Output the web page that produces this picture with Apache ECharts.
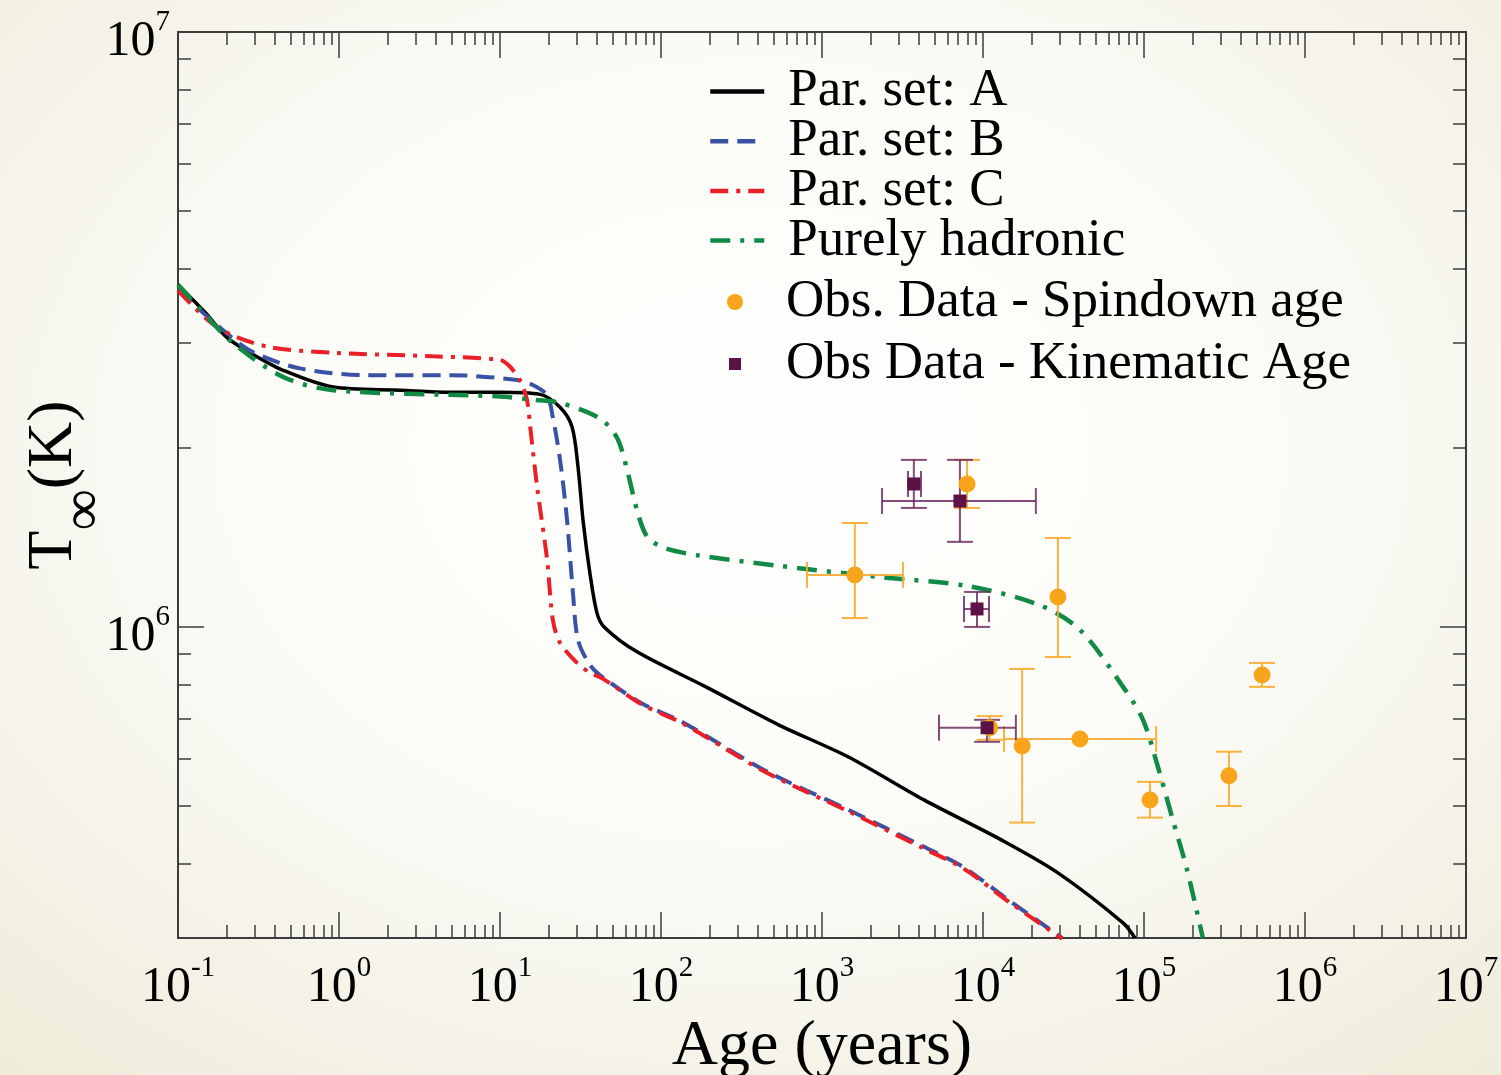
<!DOCTYPE html>
<html>
<head>
<meta charset="utf-8">
<script src="https://cdn.jsdelivr.net/npm/echarts@6/dist/echarts.min.js"></script>
<style>
  html, body { margin: 0; padding: 0; }
  #chart {
    width: 1501px; height: 1075px;
    background: radial-gradient(ellipse 78% 80% at 50% 42%, #fefefd 0%, #fbfbf7 45%, #efebd9 100%);
  }
</style>
</head>
<body>
<div id="chart"></div>
<script>
// Cooling curves: surface temperature T_inf (K) against age (years)
const ageA = [0.1, 0.15, 0.2, 0.28, 0.45, 0.92, 2.4, 4.9, 10, 17.7, 23.6, 28, 30.5, 32.8, 36.2, 40, 44.3, 71, 190, 541, 1450, 4300, 12900, 29200, 74100, 87900];
const tA   = [3.76e6, 3.36e6, 3.07e6, 2.89e6, 2.70e6, 2.53e6, 2.50e6, 2.48e6, 2.48e6, 2.46e6, 2.34e6, 2.17e6, 1.86e6, 1.51e6, 1.23e6, 1.056e6, 1.0e6, 9.08e5, 7.93e5, 6.84e5, 6.05e5, 5.12e5, 4.39e5, 3.86e5, 3.18e5, 3.0e5];

const ageB = [0.1, 0.2, 0.29, 0.57, 1.49, 4.9, 12.8, 16.0, 19.6, 21.3, 23.6, 26.1, 28.4, 30.5, 36.2, 43.7, 75.2, 137, 436, 1450, 4300, 7520, 14500, 31000];
const tB   = [3.68e6, 3.12e6, 2.90e6, 2.72e6, 2.65e6, 2.65e6, 2.60e6, 2.55e6, 2.45e6, 2.25e6, 1.91e6, 1.51e6, 1.14e6, 9.51e5, 8.63e5, 8.22e5, 7.45e5, 6.91e5, 5.75e5, 4.93e5, 4.27e5, 3.95e5, 3.47e5, 3.0e5];

const ageC = [0.1, 0.175, 0.357, 0.92, 3.84, 10, 11.5, 13.3, 14.7, 15.4, 17.0, 19.6, 21.3, 23.6, 30.1, 36.2, 43.7, 75.2, 137, 436, 1450, 4300, 7520, 14500, 31000];
const tC   = [3.68e6, 3.19e6, 2.96e6, 2.89e6, 2.85e6, 2.81e6, 2.74e6, 2.60e6, 2.41e6, 2.17e6, 1.72e6, 1.30e6, 1.027e6, 9.40e5, 8.70e5, 8.38e5, 8.18e5, 7.42e5, 6.88e5, 5.72e5, 4.90e5, 4.24e5, 3.93e5, 3.45e5, 2.99e5];

const ageH = [0.1, 0.15, 0.22, 0.45, 0.92, 10, 16, 23.6, 41.8, 53.3, 61.5, 71, 81.8, 103, 167, 548, 2290, 7960, 22300, 40000, 74100, 98600, 122000, 151000, 185000, 232000];
const tH   = [3.76e6, 3.33e6, 3.0e6, 2.63e6, 2.50e6, 2.44e6, 2.41e6, 2.38e6, 2.24e6, 2.08e6, 1.84e6, 1.57e6, 1.42e6, 1.36e6, 1.32e6, 1.266e6, 1.213e6, 1.172e6, 1.089e6, 9.89e5, 7.93e5, 6.98e5, 5.82e5, 4.74e5, 3.91e5, 3.0e5];

// Observed neutron stars, spin-down ages
const spinAge   = [1600, 7960, 29200, 11000, 17500, 40000, 109000, 337000, 541000];
const spinT     = [1.223e6, 1.739e6, 1.123e6, 6.77e5, 6.31e5, 6.48e5, 5.12e5, 5.62e5, 8.30e5];
const spinAgeLo = [807, null, null, null, null, 13500, null, null, null];
const spinAgeHi = [3186, null, null, null, null, 119000, null, null, null];
const spinTLo   = [1.035e6, 1.585e6, 8.90e5, 6.46e5, 4.69e5, null, 4.78e5, 5.00e5, 7.93e5];
const spinTHi   = [1.495e6, 1.909e6, 1.411e6, 7.08e5, 8.50e5, null, 5.49e5, 6.17e5, 8.70e5];

// Observed neutron stars, kinematic ages
const kinAge   = [3720, 7190, 9180, 10600];
const kinT     = [1.739e6, 1.628e6, 1.072e6, 6.77e5];
const kinAgeLo = [3420, 2360, 7620, 5330];
const kinAgeHi = [4120, 21300, 10900, 16000];
const kinTLo   = [1.585e6, 1.390e6, 1.0e6, 6.41e5];
const kinTHi   = [1.909e6, 1.909e6, 1.145e6, 6.98e5];

const SERIF = 'Liberation Serif';
const AXIS_COLOR = '#3c3c3c';

const pairs = (xs, ys) => xs.map((x, i) => [x, ys[i]]);

function powLabel(v) {
  const e = Math.log10(v);
  const r = Math.round(e);
  if (Math.abs(e - r) > 1e-6) return '';
  return '{m|10}{s|' + r + '}';
}
const labelRich = {
  m: { fontFamily: SERIF, fontSize: 50, lineHeight: 68, color: '#000' },
  s: { fontFamily: SERIF, fontSize: 29, lineHeight: 30, verticalAlign: 'top', color: '#000' }
};

const tickStyle = { show: true, inside: true, length: 26, lineStyle: { color: AXIS_COLOR, width: 1.5 } };
const minorStyle = { show: true, splitNumber: 9, length: 13, lineStyle: { color: AXIS_COLOR, width: 1.5 } };
const lineAxis = { show: true, onZero: false, lineStyle: { color: AXIS_COLOR, width: 2 } };

function errorBars(lo, hi, tlo, thi, color) {
  return function (params, api) {
    const i = params.dataIndex;
    const x = api.value(0), y = api.value(1);
    const c = api.coord([x, y]);
    const cap = 13;
    const st = { stroke: color, lineWidth: 2, fill: null };
    const kids = [];
    const seg = (x1, y1, x2, y2) => kids.push({ type: 'line', shape: { x1, y1, x2, y2 }, style: st });
    if (tlo[i] != null) {
      const a = api.coord([x, tlo[i]]), b = api.coord([x, thi[i]]);
      seg(c[0], a[1], c[0], b[1]);
      seg(c[0] - cap, a[1], c[0] + cap, a[1]);
      seg(c[0] - cap, b[1], c[0] + cap, b[1]);
    }
    if (lo[i] != null) {
      const a = api.coord([lo[i], y]), b = api.coord([hi[i], y]);
      seg(a[0], c[1], b[0], c[1]);
      seg(a[0], c[1] - cap, a[0], c[1] + cap);
      seg(b[0], c[1] - cap, b[0], c[1] + cap);
    }
    return { type: 'group', children: kids };
  };
}

const chart = echarts.init(document.getElementById('chart'), null, { renderer: 'canvas' });

const lineBase = { type: 'line', symbol: 'none', showSymbol: false, smooth: 0.3, silent: true, z: 3 };

chart.setOption({
  animation: false,
  grid: { left: 178, right: 35, top: 32, bottom: 137, containLabel: false, outerBoundsMode: 'none' },
  xAxis: [
    {
      type: 'log', logBase: 10, min: 0.1, max: 1e7, position: 'bottom',
      axisLine: lineAxis, axisTick: tickStyle, minorTick: minorStyle,
      splitLine: { show: false }, minorSplitLine: { show: false },
      axisLabel: { formatter: powLabel, rich: labelRich, margin: 16 },
      name: '{a|Age (years)}', nameLocation: 'middle', nameGap: 77, nameMoveOverlap: false,
      nameTextStyle: { rich: { a: { fontFamily: SERIF, fontSize: 64, lineHeight: 64, color: '#000' } } }
    },
    {
      type: 'log', logBase: 10, min: 0.1, max: 1e7, position: 'top',
      axisLine: lineAxis, axisTick: tickStyle, minorTick: minorStyle,
      splitLine: { show: false }, minorSplitLine: { show: false },
      axisLabel: { show: false }
    }
  ],
  yAxis: [
    {
      type: 'log', logBase: 10, min: 3e5, max: 1e7, position: 'left',
      axisLine: lineAxis, axisTick: tickStyle, minorTick: minorStyle,
      splitLine: { show: false }, minorSplitLine: { show: false },
      axisLabel: { formatter: powLabel, rich: labelRich, margin: 8, padding: [20, 0, 0, 0] },
      name: '{t|T}{i|\u221E}{t|(K)}', nameLocation: 'middle', nameRotate: 90, nameGap: 28,
      nameMoveOverlap: false,
      nameTextStyle: {
        rich: {
          t: { fontFamily: SERIF, fontSize: 64, lineHeight: 64, verticalAlign: 'top', color: '#000' },
          i: { fontFamily: SERIF, fontSize: 58, lineHeight: 128, color: '#000' }
        }
      }
    },
    {
      type: 'log', logBase: 10, min: 3e5, max: 1e7, position: 'right',
      axisLine: lineAxis, axisTick: tickStyle, minorTick: minorStyle,
      splitLine: { show: false }, minorSplitLine: { show: false },
      axisLabel: { show: false }
    }
  ],
  legend: [
    {
      data: ['Par. set: A', 'Par. set: B', 'Par. set: C', 'Purely hadronic'],
      orient: 'vertical', left: 708, top: 65, padding: 0, itemGap: -3.3,
      itemWidth: 54, itemHeight: 14, selectedMode: false,
      lineStyle: { width: 4.5 },
      itemStyle: { opacity: 0, borderWidth: 0 },
      textStyle: { fontFamily: SERIF, fontSize: 53, lineHeight: 49, color: '#000', padding: [0, 0, 0, 19] }
    },
    {
      data: ['Obs. Data - Spindown age'],
      orient: 'vertical', left: 727, top: 275.5, padding: 0, itemGap: 0,
      itemWidth: 16, itemHeight: 16, selectedMode: false,
      textStyle: { fontFamily: SERIF, fontSize: 53, lineHeight: 49, color: '#000', padding: [0, 0, 0, 38] }
    },
    {
      data: ['Obs Data - Kinematic Age'],
      orient: 'vertical', left: 729, top: 337.5, padding: 0, itemGap: 0,
      itemWidth: 12, itemHeight: 12, selectedMode: false,
      textStyle: { fontFamily: SERIF, fontSize: 53, lineHeight: 49, color: '#000', padding: [0, 0, 0, 40] }
    }
  ],
  series: [
    Object.assign({}, lineBase, { name: 'Par. set: A', data: pairs(ageA, tA),
      itemStyle: { color: '#000000' }, lineStyle: { color: '#000000', width: 3.5, type: 'solid' } }),
    Object.assign({}, lineBase, { name: 'Par. set: B', data: pairs(ageB, tB),
      itemStyle: { color: '#3a52a3' }, lineStyle: { color: '#3a52a3', width: 4, type: [18, 9] } }),
    Object.assign({}, lineBase, { name: 'Par. set: C', data: pairs(ageC, tC),
      itemStyle: { color: '#ea1f27' }, lineStyle: { color: '#ea1f27', width: 4, type: [18, 8, 4, 8] } }),
    Object.assign({}, lineBase, { name: 'Purely hadronic', data: pairs(ageH, tH),
      itemStyle: { color: '#118a45' }, lineStyle: { color: '#118a45', width: 4.5, type: [20, 10, 4, 10] } }),
    {
      type: 'custom', name: 'spindown-err', silent: true, z: 4,
      data: pairs(spinAge, spinT), encode: { x: 0, y: 1 },
      renderItem: errorBars(spinAgeLo, spinAgeHi, spinTLo, spinTHi, 'rgba(250,170,45,0.9)')
    },
    {
      type: 'custom', name: 'kinematic-err', silent: true, z: 4,
      data: pairs(kinAge, kinT), encode: { x: 0, y: 1 },
      renderItem: errorBars(kinAgeLo, kinAgeHi, kinTLo, kinTHi, 'rgba(112,45,98,0.85)')
    },
    {
      type: 'scatter', name: 'Obs. Data - Spindown age', data: pairs(spinAge, spinT),
      symbol: 'circle', symbolSize: 17, silent: true, z: 5,
      itemStyle: { color: '#f9a51b', opacity: 1 }
    },
    {
      type: 'scatter', name: 'Obs Data - Kinematic Age', data: pairs(kinAge, kinT),
      symbol: 'rect', symbolSize: 13, silent: true, z: 6,
      itemStyle: { color: '#5c1247', opacity: 1 }
    }
  ]
});
</script>
</body>
</html>
